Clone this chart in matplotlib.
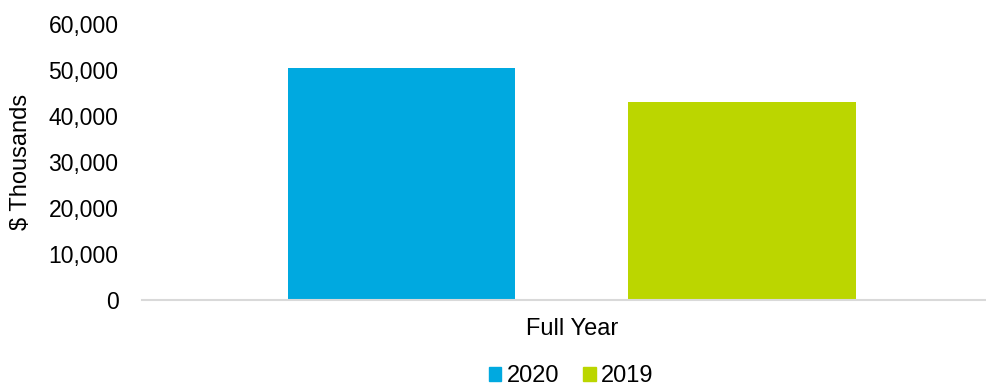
import matplotlib
matplotlib.use("Agg")
import matplotlib.pyplot as plt
from matplotlib.ticker import FuncFormatter
from matplotlib.patches import Patch

categories = ["Full Year"]
series_names = ["2020", "2019"]
values_2020 = [50500]
values_2019 = [43000]
colors = ["#00A9E0", "#BBD600"]
yticks = [0, 10000, 20000, 30000, 40000, 50000, 60000]

plt.rcParams['font.family'] = ['Liberation Sans', 'DejaVu Sans']

fig = plt.figure(figsize=(9.87, 3.88), dpi=100)
ax = fig.add_axes([142/987, 1-300/388, (985-142)/987, (300-24)/388])

w = 1.0
off = 0.75
ax.bar([-off], values_2020, width=w, color=colors[0], label=series_names[0])
ax.bar([off], values_2019, width=w, color=colors[1], label=series_names[1])

ax.set_xlim(-1.892, 1.82)
ax.set_ylim(0, 60000)
ax.set_yticks(yticks)
ax.yaxis.set_major_formatter(FuncFormatter(lambda v, p: f"{int(v):,}"))
ax.set_xticks([0])
ax.set_xticklabels(categories)
ax.tick_params(axis='y', length=0, pad=17, labelsize=16.5, labelcolor='#000000')
ax.tick_params(axis='x', length=0, pad=13, labelsize=17, labelcolor='#000000')
for s in ['top', 'right', 'left']:
    ax.spines[s].set_visible(False)
ax.spines['bottom'].set_color('#D9D9D9')
ax.spines['bottom'].set_linewidth(1.5)

ax.set_ylabel("$ Thousands", fontsize=17, color='#000000')
ax.yaxis.set_label_coords(-0.131, 0.5)

handles = [Patch(color=c, label=n) for c, n in zip(colors, series_names)]
fig.legend(handles=handles, loc='center', bbox_to_anchor=(571/987, 1-376/388),
           ncol=2, frameon=False, fontsize=17, handlelength=0.55, handleheight=0.55,
           handletextpad=0.22, columnspacing=1.0, borderpad=0)

fig.savefig("out.png", dpi=100)
